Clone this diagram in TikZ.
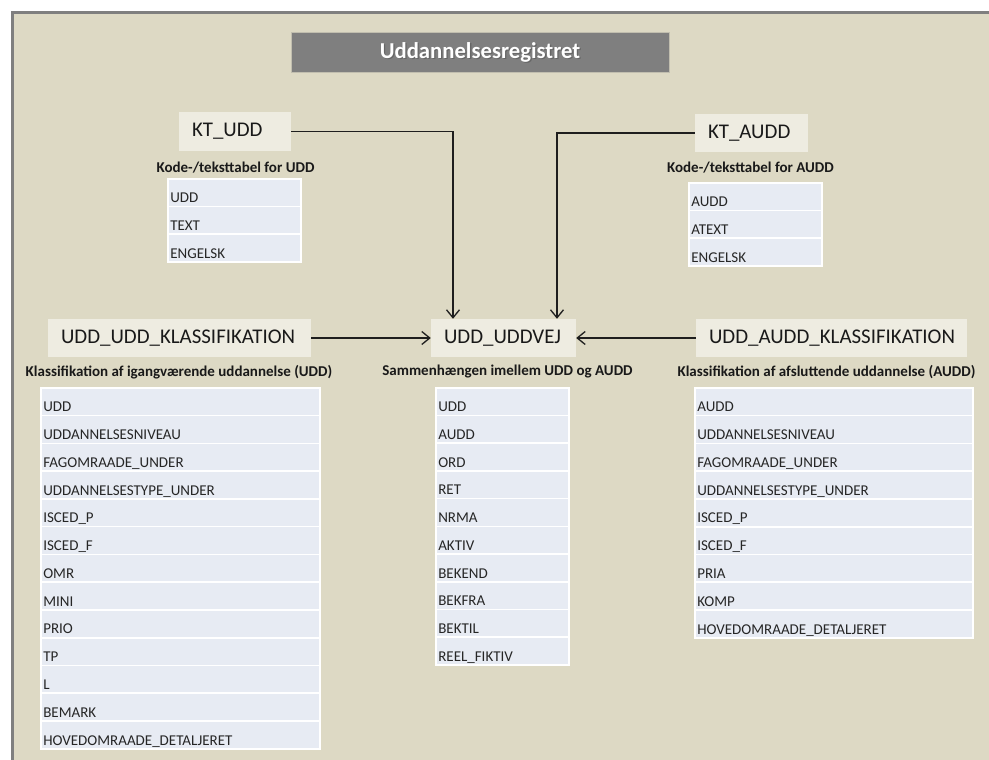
\documentclass[tikz,border=0pt]{standalone}
\usepackage{fontspec}
\setmainfont{Carlito}
\usepackage{tikz}
\usepackage{xcolor}
\usetikzlibrary{calc,positioning,arrows.meta}

\definecolor{bgtan}{HTML}{DDD9C4}
\definecolor{boxtan}{HTML}{EEECE1}
\definecolor{rowblue}{HTML}{E7EBF3}
\definecolor{framegray}{HTML}{7F7F7F}
\definecolor{linedark}{HTML}{1E1E1E}

\tikzset{
  tblname/.style={fill=boxtan, inner xsep=13pt, inner ysep=0pt, minimum height=38pt,
    align=left, font=\fontsize{20.9}{24}\selectfont, text=black!90},
  tblcap/.style={inner sep=0pt, font=\bfseries\fontsize{15}{17}\selectfont, text=black!90},
  fieldrow/.style={fill=rowblue, draw=white, line width=1.6pt, anchor=north west,
    inner xsep=2.5pt, inner ysep=0pt, text height=24pt, text depth=3.75pt,
    align=left, font=\fontsize{15}{17}\selectfont, text=black!85},
  link/.style={draw=linedark, line width=1.3pt},
  linkto/.style={link, -{Straight Barb[length=8pt,width=13pt]}}
}

\begin{document}
\begin{tikzpicture}[x=1pt,y=-1pt]
    \useasboundingbox (0,0) rectangle (989,760);
    \clip (0,0) rectangle (989,760);

    %% frame
    \fill[bgtan] (12.5,13) rectangle (989,760);
    \draw[framegray, line width=3pt] (12.5,760) -- (12.5,13) -- (989,13);

    %% title
    \node (title) [fill=framegray, draw=bgtan!70!framegray, line width=0.8pt,
        minimum width=378pt, minimum height=40pt] at (480,52) {};
    \node (title-shadow) [text=black!60, font=\bfseries\fontsize{22.7}{26}\selectfont]
        at (481.3,53.3) {Uddannelsesregistret};
    \node (title-text) [text=white, font=\bfseries\fontsize{22.7}{26}\selectfont]
        at (title.center) {Uddannelsesregistret};

    %% tables
    \node (ktudd) [tblname, text width=86pt] at (235,131.5) {KT\_UDD};
    \node (ktaudd) [tblname, text width=87pt] at (751.5,133) {KT\_AUDD};
    \node (uddklass) [tblname, text width=237pt] at (179.5,338) {UDD\_UDD\_KLASSIFIKATION};
    \node (uddvej) [tblname, text width=119pt] at (503.5,338) {UDD\_UDDVEJ};
    \node (auddklass) [tblname, text width=245pt] at (831.5,338) {UDD\_AUDD\_KLASSIFIKATION};

    %% captions
    \node (ktudd-cap) [tblcap] at (235.5,168) {Kode-/teksttabel for UDD};
    \node (ktaudd-cap) [tblcap] at (750.5,168) {Kode-/teksttabel for AUDD};
    \node (uddklass-cap) [tblcap] at (179,372) {Klassifikation af igangværende uddannelse (UDD)};
    \node (uddvej-cap) [tblcap] at (507.5,372) {Sammenhængen imellem UDD og AUDD};
    \node (auddklass-cap) [tblcap] at (826.5,372) {Klassifikation af afsluttende uddannelse (AUDD)};

    %% fields
    \foreach \fld [count=\i from 0] in {UDD,TEXT,ENGELSK}
        \node (ktudd-f\i) [fieldrow, text width=128pt] at (167,178+\i*27.67) {\fld};
    \foreach \fld [count=\i from 0] in {AUDD,ATEXT,ENGELSK}
        \node (ktaudd-f\i) [fieldrow, text width=128pt] at (688,182+\i*27.67) {\fld};
    \foreach \fld [count=\i from 0] in {UDD,UDDANNELSESNIVEAU,FAGOMRAADE\_UNDER,
        UDDANNELSESTYPE\_UNDER,ISCED\_P,ISCED\_F,OMR,MINI,PRIO,TP,L,BEMARK,
        HOVEDOMRAADE\_DETALJERET}
        \node (uddklass-f\i) [fieldrow, text width=274pt] at (40,387+\i*27.77) {\fld};
    \foreach \fld [count=\i from 0] in {UDD,AUDD,ORD,RET,NRMA,AKTIV,BEKEND,BEKFRA,
        BEKTIL,REEL\_FIKTIV}
        \node (uddvej-f\i) [fieldrow, text width=128pt] at (435,387+\i*27.7) {\fld};
    \foreach \fld [count=\i from 0] in {AUDD,UDDANNELSESNIVEAU,FAGOMRAADE\_UNDER,
        UDDANNELSESTYPE\_UNDER,ISCED\_P,ISCED\_F,PRIA,KOMP,HOVEDOMRAADE\_DETALJERET}
        \node (auddklass-f\i) [fieldrow, text width=273pt] at (694,387+\i*27.78) {\fld};

    %% links
    \draw[linkto] (ktudd.east) -| ([xshift=-50.5pt]uddvej.north);
    \draw[linkto] (ktaudd.west) -| ([xshift=53.5pt]uddvej.north);
    \draw[linkto] (uddklass.east) -- (uddvej.west);
    \draw[linkto] (auddklass.west) -- (uddvej.east);
\end{tikzpicture}
\end{document}
